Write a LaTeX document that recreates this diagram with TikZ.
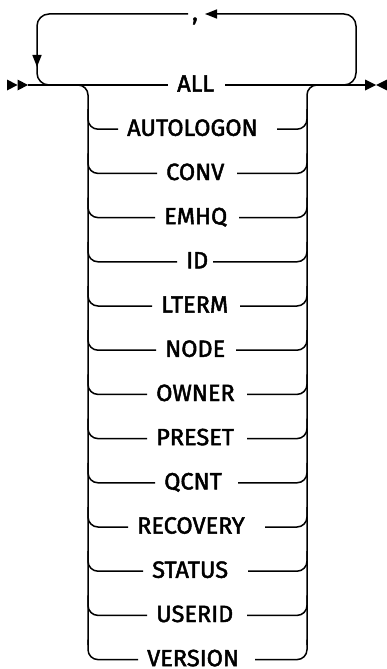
\documentclass[tikz,border=0pt]{standalone}
\usepackage{fontspec}
\newfontfamily\labfont{Fira Sans}[FakeBold=2]
\usetikzlibrary{arrows.meta}
\tikzset{
  rail/.style={line width=1.5pt, line cap=butt},
  lab/.style={font=\labfont\fontsize{23.5}{26}\selectfont, inner sep=0pt,
              anchor=base west},
  tip/.style={fill=black},
  larr/.style={-{Triangle[length=12pt,width=9pt]}}
}
\begin{document}
\begin{tikzpicture}[x=1pt,y=-1pt]
\useasboundingbox (0,0) rectangle (387,669);
% start and end markers
\coordinate (start) at (28,85);
\coordinate (stop) at (366,85);
\fill[tip] (7,79.5) -- (17.5,85) -- (7,90.5) -- cycle;
\fill[tip] (17.5,79.5) -- (28,85) -- (17.5,90.5) -- cycle;
\fill[tip] (365,79.5) -- (376,85) -- (365,90.5) -- cycle;
\fill[tip] (387,79.5) -- (376,85) -- (387,90.5) -- cycle;
% rows
\foreach \i/\t/\gl/\gr in {1/ALL/168/225, 2/AUTOLOGON/118/277, 3/CONV/157/237,
  4/EMHQ/155/239, 5/ID/177/213, 6/LTERM/152/240, 7/NODE/156/236,
  8/OWNER/147/247, 9/PRESET/147/247, 10/QCNT/155/238, 11/RECOVERY/128/265,
  12/STATUS/143/248, 13/USERID/147/247, 14/VERSION/138/255}{
  \pgfmathsetmacro\yy{85+44.2*(\i-1)}
  \coordinate (l\i) at (\gl,\yy);
  \coordinate (r\i) at (\gr,\yy);
  \node[lab] (t\i) at (\gl+9,\yy+6.6) {\t};
  \ifnum\i>1
    \draw[rail, rounded corners=10pt] (88,\yy-20) -- (88,\yy) -- (l\i);
    \draw[rail, rounded corners=10pt] (r\i) -- (307,\yy) -- (307,\yy-20);
  \fi
}
% main line
\draw[rail] (start) -- (l1);
\draw[rail] (r1) -- (stop);
% branch verticals
\draw[rail, rounded corners=10pt] (70,85) -- (88,85) -- (88,645);
\draw[rail, rounded corners=10pt] (307,645) -- (307,85) -- (325,85);
% repeat loop
\node[lab] (comma) at (192,20.5) {,};
\coordinate (ltip) at (205,14);
\coordinate (lgap) at (188,14);
\draw[rail, rounded corners=12pt, larr] (330,85) -- (356,85) -- (356,14) -- (ltip);
\draw[rail, rounded corners=12pt, larr] (lgap) -- (37,14) -- (37,67);
\draw[rail, rounded corners=12pt] (37,62) -- (37,85) -- (60,85);
\end{tikzpicture}
\end{document}
